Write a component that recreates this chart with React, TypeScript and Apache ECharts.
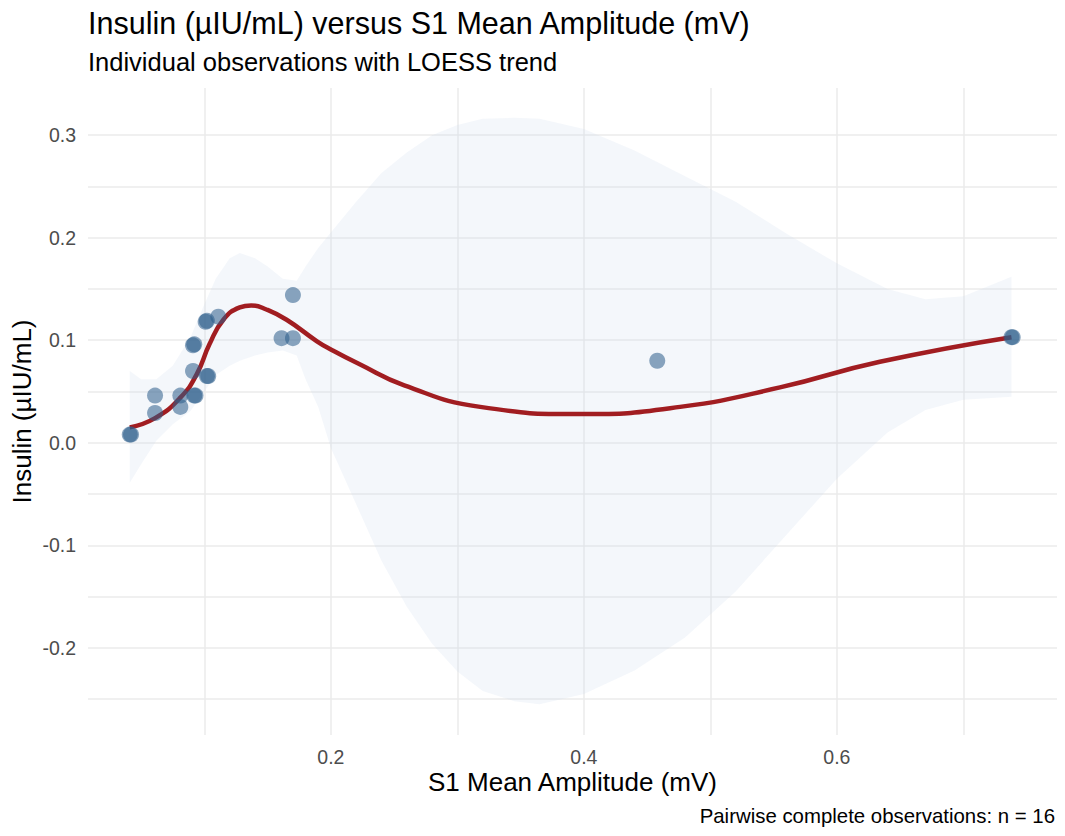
import React, { useEffect, useRef } from "react";
import * as echarts from "echarts";

// Observations (S1 mean amplitude, insulin); overlapping duplicates appear darker
const obsAmplitude = [0.041, 0.042, 0.061, 0.061, 0.081, 0.081, 0.092, 0.093, 0.091, 0.091, 0.092, 0.102, 0.103, 0.101, 0.102, 0.111, 0.161, 0.170, 0.170, 0.458, 0.738, 0.739];
const obsInsulin = [0.008, 0.008, 0.046, 0.029, 0.046, 0.035, 0.046, 0.046, 0.070, 0.095, 0.096, 0.065, 0.065, 0.118, 0.119, 0.123, 0.102, 0.102, 0.144, 0.080, 0.103, 0.103];

// LOESS fit
const loessX = [0.041, 0.061, 0.081, 0.094, 0.104, 0.115, 0.128, 0.137, 0.149, 0.165, 0.189, 0.2, 0.222, 0.258, 0.318, 0.397, 0.476, 0.555, 0.634, 0.738];
const loessY = [0.015, 0.024, 0.044, 0.067, 0.096, 0.120, 0.132, 0.134, 0.130, 0.120, 0.099, 0.091, 0.077, 0.056, 0.035, 0.028, 0.035, 0.054, 0.079, 0.103];

// Confidence band
const bandX = [0.041, 0.05, 0.062, 0.075, 0.089, 0.1, 0.109, 0.12, 0.128, 0.14, 0.15, 0.162, 0.173, 0.18, 0.19, 0.2, 0.22, 0.24, 0.26, 0.28, 0.3, 0.32, 0.345, 0.365, 0.4, 0.44, 0.48, 0.52, 0.56, 0.6, 0.64, 0.67, 0.7, 0.738];
const bandUpper = [0.070, 0.062, 0.062, 0.075, 0.103, 0.135, 0.160, 0.180, 0.185, 0.180, 0.172, 0.160, 0.158, 0.172, 0.190, 0.205, 0.235, 0.263, 0.283, 0.300, 0.310, 0.316, 0.317, 0.316, 0.306, 0.285, 0.260, 0.235, 0.204, 0.175, 0.150, 0.140, 0.143, 0.162];
const bandLower = [-0.039, -0.021, 0.002, 0.018, 0.031, 0.050, 0.066, 0.075, 0.080, 0.085, 0.088, 0.090, 0.085, 0.062, 0.035, -0.005, -0.060, -0.115, -0.160, -0.196, -0.223, -0.242, -0.252, -0.255, -0.245, -0.222, -0.190, -0.145, -0.090, -0.035, 0.010, 0.032, 0.042, 0.045];

// Axes
const xLabelValues = [0.2, 0.4, 0.6];
const xGridValues = [0.1, 0.2, 0.3, 0.4, 0.5, 0.6, 0.7];
const yLabelValues = [-0.2, -0.1, 0, 0.1, 0.2, 0.3];
const yGridValues = [-0.25, -0.2, -0.15, -0.1, -0.05, 0, 0.05, 0.1, 0.15, 0.2, 0.25, 0.3];
const xRange = [0.008, 0.774];
const yRange = [-0.285, 0.346];

const FONT = "Liberation Sans, Arial, Helvetica, sans-serif";

export default function App() {
  const ref = useRef<HTMLDivElement>(null);
  useEffect(() => {
    document.body.style.margin = "0";
    if (!ref.current) return;
    const chart = echarts.init(ref.current, undefined, { renderer: "svg" });
    const gridLine = { show: true, lineStyle: { color: "#ebebeb", width: 1.5 } };
    chart.setOption({
      animation: false,
      backgroundColor: "#ffffff",
      textStyle: { fontFamily: FONT },
      title: [
        { text: "Insulin (µIU/mL) versus S1 Mean Amplitude (mV)", left: 83, top: 2, textStyle: { fontSize: 30.5, fontWeight: "normal", color: "#000", fontFamily: FONT } },
        { text: "Individual observations with LOESS trend", left: 83, top: 44, textStyle: { fontSize: 25.5, fontWeight: "normal", color: "#000", fontFamily: FONT } },
        { text: "Pairwise complete observations: n = 16", right: 5, top: 801, textStyle: { fontSize: 20.4, fontWeight: "normal", color: "#000", fontFamily: FONT } },
      ],
      grid: { left: 88, right: 8, top: 88, bottom: 101, containLabel: false },
      xAxis: {
        type: "value",
        min: xRange[0],
        max: xRange[1],
        name: "S1 Mean Amplitude (mV)",
        nameLocation: "middle",
        nameGap: 34,
        nameMoveOverlap: false,
        nameTextStyle: { fontSize: 26, color: "#000", fontFamily: FONT },
        axisLine: { show: false },
        axisTick: { show: false, customValues: xGridValues },
        axisLabel: { customValues: xLabelValues, color: "#4d4d4d", fontSize: 19.5, margin: 12, formatter: (v: number) => v.toFixed(1) },
        splitLine: gridLine,
      },
      yAxis: {
        type: "value",
        min: yRange[0],
        max: yRange[1],
        name: "Insulin (µIU/mL)",
        nameLocation: "middle",
        nameGap: 53,
        nameMoveOverlap: false,
        nameTextStyle: { fontSize: 26, color: "#000", fontFamily: FONT },
        axisLine: { show: false },
        axisTick: { show: false, customValues: yGridValues },
        axisLabel: { customValues: yLabelValues, color: "#4d4d4d", fontSize: 19.5, margin: 12, formatter: (v: number) => v.toFixed(1) },
        splitLine: gridLine,
      },
      series: [
        {
          type: "custom",
          data: [[bandX[0], bandLower[0]]],
          silent: true,
          clip: false,
          z: 1,
          renderItem: (_params: any, api: any) => {
            const up = bandX.map((x, i) => api.coord([x, bandUpper[i]]));
            const lo = bandX.map((x, i) => api.coord([x, bandLower[i]])).reverse();
            return {
              type: "polygon",
              shape: { points: up.concat(lo) },
              style: { fill: "rgba(200,214,236,0.2)", stroke: "none" },
            };
          },
        },
        {
          type: "line",
          data: loessX.map((x, i) => [x, loessY[i]]),
          smooth: true,
          symbol: "none",
          lineStyle: { color: "#a11d21", width: 4.5 },
          z: 3,
        },
        {
          type: "scatter",
          data: obsAmplitude.map((x, i) => [x, obsInsulin[i]]),
          symbolSize: 16,
          itemStyle: { color: "#2c5d8b", opacity: 0.55 },
          z: 4,
        },
      ],
    });
    return () => chart.dispose();
  }, []);
  return <div ref={ref} style={{ width: 1065, height: 836 }} />;
}
